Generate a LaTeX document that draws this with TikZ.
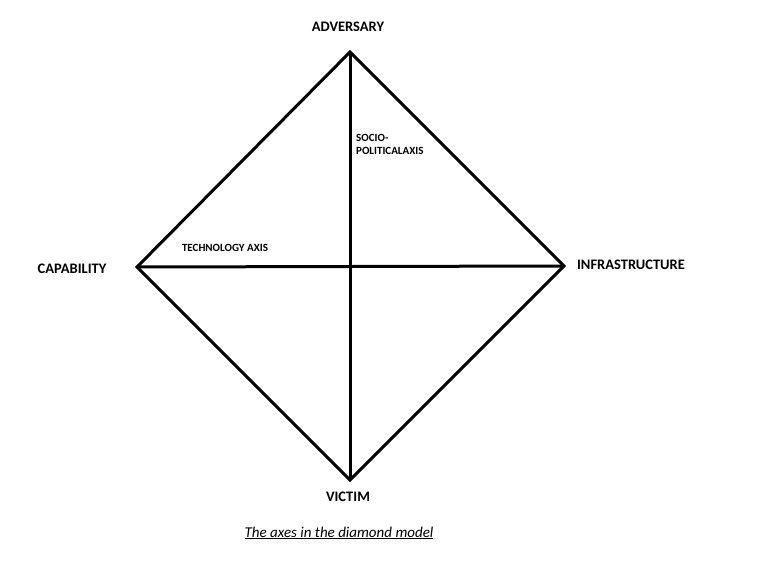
\documentclass[tikz,border=0pt]{standalone}
\usepackage{fontspec}
\setmainfont{Carlito}
\begin{document}
\begin{tikzpicture}[x=1pt,y=-1pt,
  vlabel/.style={font=\fontsize{14.5}{16}\selectfont\bfseries, inner sep=0pt},
  axlabel/.style={font=\fontsize{11}{13.5}\selectfont\bfseries, inner sep=0pt},
  edge/.style={line width=3pt, black}]
\useasboundingbox[fill=white] (0,0) rectangle (774,584);
\coordinate (T) at (350,52);
\coordinate (L) at (137,267);
\coordinate (R) at (564,266);
\coordinate (B) at (350,480);
\draw[edge, line join=miter] (T) -- (R) -- (B) -- (L) -- cycle;
\draw[edge] (T) -- (B);
\draw[edge] (L) -- (R);
\node[vlabel] (adv) at (348,27) {ADVERSARY};
\node[vlabel] (cap) at (72,269) {CAPABILITY};
\node[vlabel] (inf) at (631,265) {INFRASTRUCTURE};
\node[vlabel] (vic) at (348,497) {VICTIM};
\node[axlabel] (tech) at (225,248) {TECHNOLOGY AXIS};
\node[axlabel, anchor=north west, align=left] (socio) at (356,134) {SOCIO-\\POLITICALAXIS};
\node[font=\fontsize{15}{17}\selectfont\itshape, inner sep=0pt] (cap2) at (339,533) {\underline{The axes in the diamond model}};
\end{tikzpicture}
\end{document}
